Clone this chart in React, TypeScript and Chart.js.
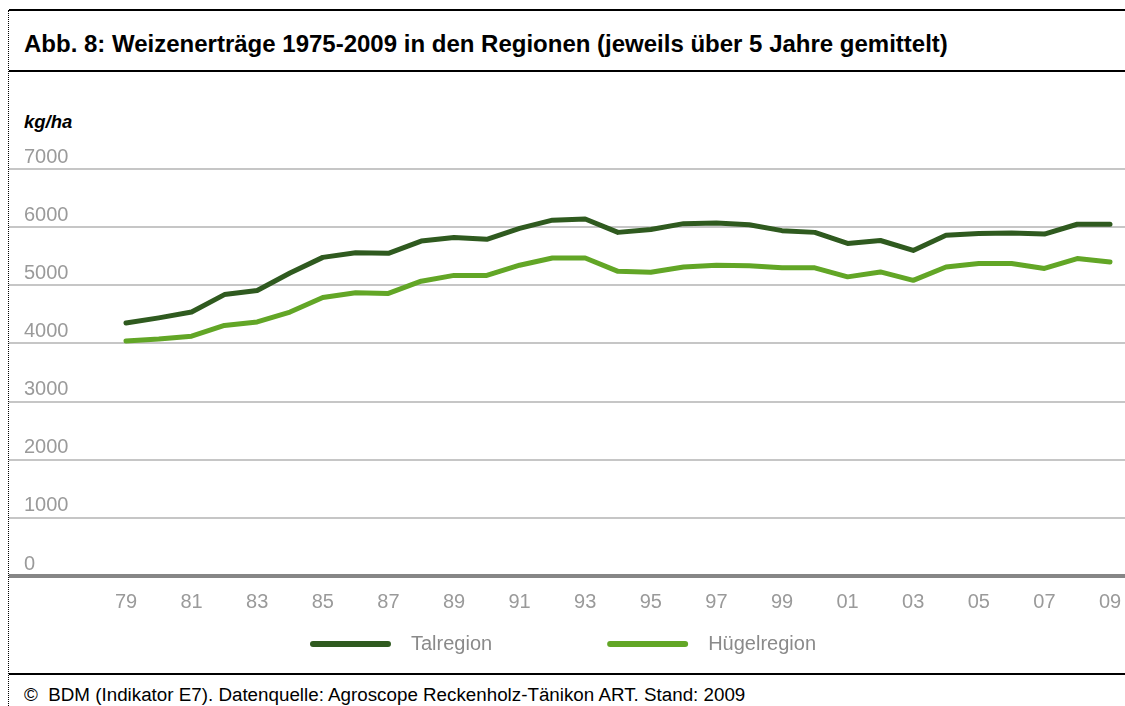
import React, { useEffect, useRef } from "react";
import { Chart, registerables } from "chart.js";

Chart.register(...registerables);

const years = [
  1979, 1980, 1981, 1982, 1983, 1984, 1985, 1986, 1987, 1988, 1989, 1990, 1991, 1992, 1993, 1994,
  1995, 1996, 1997, 1998, 1999, 2000, 2001, 2002, 2003, 2004, 2005, 2006, 2007, 2008, 2009,
];
const tickYears = [1979, 1981, 1983, 1985, 1987, 1989, 1991, 1993, 1995, 1997, 1999, 2001, 2003, 2005, 2007, 2009];
const tickLabels = ["79", "81", "83", "85", "87", "89", "91", "93", "95", "97", "99", "01", "03", "05", "07", "09"];
const yTickValues = [0, 1000, 2000, 3000, 4000, 5000, 6000, 7000];

const talregion = [
  4350, 4440, 4540, 4840, 4910, 5210, 5480, 5560, 5550, 5760, 5820, 5790, 5980, 6120, 6140, 5910,
  5960, 6060, 6070, 6040, 5940, 5910, 5720, 5770, 5600, 5860, 5890, 5900, 5880, 6050, 6050,
];
const huegelregion = [
  4040, 4075, 4125, 4310, 4370, 4540, 4790, 4870, 4860, 5070, 5170, 5170, 5345, 5470, 5470, 5240,
  5225, 5315, 5345, 5335, 5300, 5300, 5145, 5230, 5085, 5315, 5375, 5375, 5290, 5460, 5400,
];
const seriesNames = ["Talregion", "Hügelregion"];
const seriesColors = ["#2f5a1f", "#62a626"];

const FONT = '"Liberation Sans", Arial, Helvetica, sans-serif';

const lineLegend = {
  id: "lineLegend",
  afterDraw(chart: any) {
    const { ctx, chartArea } = chart;
    const lineLen = 81;
    const gapText = 20;
    const gapItem = 115;
    ctx.save();
    ctx.font = `20px ${FONT}`;
    const items = chart.data.datasets.map((ds: any) => ({
      label: ds.label,
      color: ds.borderColor,
      w: lineLen + gapText + ctx.measureText(ds.label).width,
    }));
    const total = items.reduce((s: number, it: any) => s + it.w, 0) + gapItem * (items.length - 1);
    let x = (chart.width - total) / 2 - 4;
    const y = chartArea.bottom + 68;
    items.forEach((it: any) => {
      ctx.strokeStyle = it.color;
      ctx.lineWidth = 6;
      ctx.lineCap = "round";
      ctx.beginPath();
      ctx.moveTo(x + 3, y);
      ctx.lineTo(x + lineLen - 3, y);
      ctx.stroke();
      ctx.fillStyle = "#8a8a8a";
      ctx.textBaseline = "middle";
      ctx.textAlign = "left";
      ctx.fillText(it.label, x + lineLen + gapText, y);
      x += it.w + gapItem;
    });
    ctx.restore();
  },
};

export default function App() {
  const canvasRef = useRef<HTMLCanvasElement | null>(null);

  useEffect(() => {
    if (!canvasRef.current) return;
    const series = [talregion, huegelregion];
    const chart = new Chart(canvasRef.current, {
      type: "line",
      data: {
        datasets: series.map((vals, i) => ({
          label: seriesNames[i],
          data: years.map((yr, j) => ({ x: yr, y: vals[j] })),
          borderColor: seriesColors[i],
          backgroundColor: seriesColors[i],
          borderWidth: 5,
          borderCapStyle: "round",
          borderJoinStyle: "round",
          pointRadius: 0,
          tension: 0,
          fill: false,
        })),
      },
      options: {
        animation: false,
        responsive: false,
        maintainAspectRatio: false,
        layout: { padding: { top: 29, bottom: 32, left: 0, right: 0 } },
        plugins: {
          legend: { display: false },
          tooltip: { enabled: false },
          title: { display: false },
        },
        scales: {
          x: {
            type: "linear",
            min: 1975.433,
            max: 2009.457,
            afterBuildTicks: (axis: any) => {
              axis.ticks = tickYears.map((v) => ({ value: v }));
            },
            afterFit: (axis: any) => {
              axis.paddingLeft = 0;
              axis.paddingRight = 0;
            },
            ticks: {
              autoSkip: false,
              maxRotation: 0,
              padding: 14,
              color: "#9a9a9a",
              font: { family: FONT, size: 20 },
              callback: (v: any) => tickLabels[tickYears.indexOf(Number(v))] ?? "",
            },
            grid: { display: false, drawTicks: false },
            border: { display: false },
          },
          y: {
            type: "linear",
            min: 0,
            max: 7000,
            afterBuildTicks: (axis: any) => {
              axis.ticks = yTickValues.map((v) => ({ value: v }));
            },
            afterFit: (axis: any) => {
              axis.width = 0;
            },
            ticks: {
              mirror: true,
              padding: 15,
              labelOffset: -12,
              color: "#9a9a9a",
              font: { family: FONT, size: 20 },
              callback: (v: any) => String(v),
            },
            grid: {
              drawTicks: false,
              color: (c: any) => (c.tick && c.tick.value === 0 ? "#868686" : "#c6c6c6"),
              lineWidth: (c: any) => (c.tick && c.tick.value === 0 ? 4 : 2),
            },
            border: { display: false },
          },
        },
      },
      plugins: [lineLegend],
    });
    return () => chart.destroy();
  }, []);

  const abs = (s: React.CSSProperties): React.CSSProperties => ({ position: "absolute", ...s });

  return (
    <div style={{ position: "fixed", left: 0, top: 0, width: 1125, height: 706, background: "#fff", overflow: "hidden", fontFamily: FONT }}>
      <div style={abs({ left: 8, top: 10, height: 696, width: 0, borderLeft: "1px dotted #000" })} />
      <div style={abs({ left: 9, top: 9, width: 1116, height: 2, background: "#000" })} />
      <div style={abs({ left: 24, top: 32, fontSize: 24, lineHeight: "24px", fontWeight: "bold", color: "#000", whiteSpace: "pre" })}>
        Abb. 8: Weizenerträge 1975-2009 in den Regionen (jeweils über 5 Jahre gemittelt)
      </div>
      <div style={abs({ left: 9, top: 70, width: 1116, height: 2, background: "#000" })} />
      <div style={abs({ left: 24, top: 113, fontSize: 18.5, lineHeight: "18px", fontWeight: "bold", fontStyle: "italic", color: "#000" })}>
        kg/ha
      </div>
      <canvas ref={canvasRef} width={1116} height={520} style={abs({ left: 9, top: 140, width: 1116, height: 520 })} />
      <div style={abs({ left: 9, top: 673, width: 1116, height: 2, background: "#000" })} />
      <div style={abs({ left: 24, top: 686, fontSize: 18.8, lineHeight: "18px", color: "#000", whiteSpace: "pre" })}>
        {"©  BDM (Indikator E7). Datenquelle: Agroscope Reckenholz-Tänikon ART. Stand: 2009"}
      </div>
    </div>
  );
}
